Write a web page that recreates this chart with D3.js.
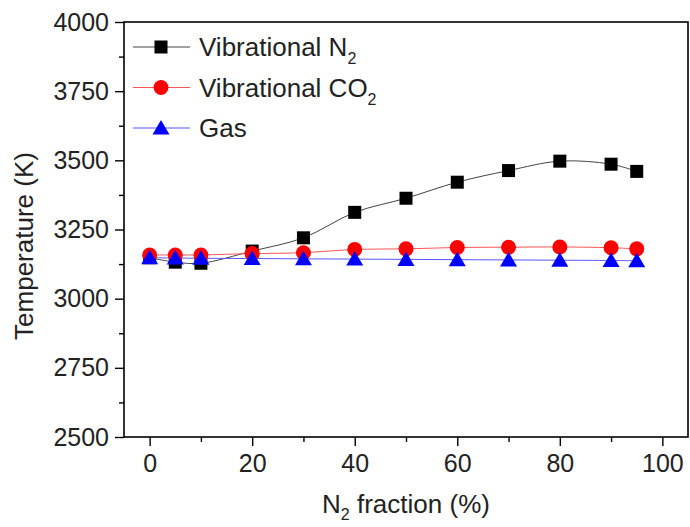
<!DOCTYPE html>
<html><head><meta charset="utf-8">
<script src="https://cdn.jsdelivr.net/npm/d3@7"></script>
<style>body{margin:0;background:#fff}svg{display:block}text{font-family:"Liberation Sans",Arial,sans-serif}</style>
</head><body>
<script>
const fractions = [0,5,10,20,30,40,50,60,70,80,90,95];
const vibN2 = [3148,3132,3128,3172,3220,3312,3363,3421,3463,3497,3486,3460];
const vibCO2 = [3158,3158,3158,3163,3166,3178,3180,3185,3186,3187,3184,3180];
const gas = [3148,3147,3146,3145,3144,3143,3142,3141,3140,3139,3138,3137];
const xTicks = [0,20,40,60,80,100];
const yTicks = [2500,2750,3000,3250,3500,3750,4000];

const W=690,H=527;
const svg=d3.select("body").append("svg").attr("width",W).attr("height",H);
const x=d3.scaleLinear().domain([-5,105]).range([124,688]);
const y=d3.scaleLinear().domain([2500,4000]).range([437,22]);

svg.append("rect").attr("x",124).attr("y",22).attr("width",564).attr("height",415)
  .attr("fill","none").attr("stroke","#000").attr("stroke-width",1.6);

svg.append("g").attr("transform","translate(0,437)")
  .call(d3.axisBottom(x).tickValues(xTicks).tickSize(9).tickPadding(8).tickFormat(d3.format("d")));
svg.append("g").attr("transform","translate(0,437)")
  .call(d3.axisBottom(x).tickValues([10,30,50,70,90]).tickSize(5).tickFormat(""));
svg.append("g").attr("transform","translate(124,0)")
  .call(d3.axisLeft(y).tickValues(yTicks).tickSize(9).tickPadding(6).tickFormat(d3.format("d")));
svg.append("g").attr("transform","translate(124,0)")
  .call(d3.axisLeft(y).tickValues([2625,2875,3125,3375,3625,3875]).tickSize(5).tickFormat(""));
svg.selectAll(".domain").remove();
svg.selectAll(".tick line").attr("stroke","#000").attr("stroke-width",1.4);
svg.selectAll(".tick text").attr("font-size",25).attr("fill","#222");

svg.append("text").attr("transform","translate(33,246) rotate(-90)").attr("text-anchor","middle")
  .attr("font-size",26).attr("fill","#222").text("Temperature (K)");
const xt=svg.append("text").attr("x",406).attr("y",513).attr("text-anchor","middle").attr("font-size",26).attr("fill","#222");
xt.append("tspan").text("N");
xt.append("tspan").attr("font-size",16).attr("dy",7).text("2");
xt.append("tspan").attr("dy",-7).text(" fraction (%)");

const series=[
  {name:"Vibrational N",sub:"2",vals:vibN2,color:"#000",line:"#444",shape:"square"},
  {name:"Vibrational CO",sub:"2",vals:vibCO2,color:"#f00",line:"#f55",shape:"circle"},
  {name:"Gas",sub:"",vals:gas,color:"#00f",line:"#55f",shape:"triangle"}
];
function marker(g,s,cx,cy){
  if(s.shape==="square") g.append("rect").attr("x",cx-6.5).attr("y",cy-6.5).attr("width",13).attr("height",13).attr("fill",s.color);
  else if(s.shape==="circle") g.append("circle").attr("cx",cx).attr("cy",cy).attr("r",7.5).attr("fill",s.color);
  else g.append("path").attr("d",`M${cx},${cy-8}L${cx+8.5},${cy+6.5}L${cx-8.5},${cy+6.5}Z`).attr("fill",s.color);
}
const line=d3.line().x((d,i)=>x(fractions[i])).y(d=>y(d)).curve(d3.curveCatmullRom);
series.forEach(s=>{
  svg.append("path").attr("d",line(s.vals)).attr("fill","none").attr("stroke",s.line).attr("stroke-width",1);
});
series.forEach(s=>{
  const g=svg.append("g");
  s.vals.forEach((v,i)=>marker(g,s,x(fractions[i]),y(v)));
});
series.forEach((s,i)=>{
  const ly=47+i*40.5;
  svg.append("line").attr("x1",133).attr("x2",190).attr("y1",ly).attr("y2",ly).attr("stroke",s.line).attr("stroke-width",1);
  const g=svg.append("g"); marker(g,s,161,ly);
  const t=svg.append("text").attr("x",199).attr("y",ly+9).attr("font-size",26).attr("fill","#222");
  t.append("tspan").text(s.name);
  if(s.sub) t.append("tspan").attr("font-size",16).attr("dy",8).text(s.sub);
});
</script>
</body></html>
